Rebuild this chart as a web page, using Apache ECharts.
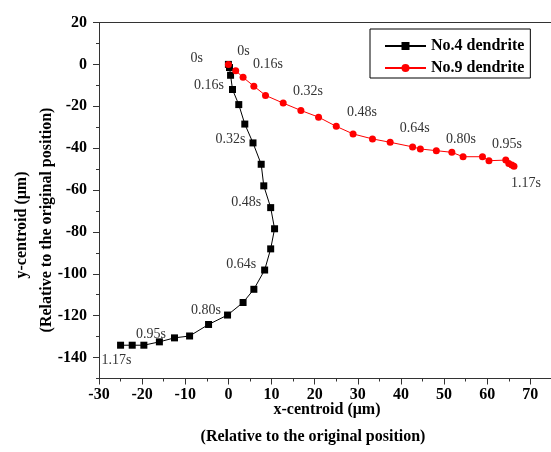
<!DOCTYPE html>
<html>
<head>
<meta charset="utf-8">
<title>Dendrite centroid trajectory</title>
<script src="https://cdn.jsdelivr.net/npm/echarts@6/dist/echarts.min.js"></script>
<style>
  html, body { margin: 0; padding: 0; background: #fff; }
  #chart { width: 551px; height: 452px; }
</style>
</head>
<body>
<div id="chart"></div>
<script>
// --- data ---
const seriesNames = ['No.4 dendrite', 'No.9 dendrite'];

// No.4 dendrite (black squares)
const no4X = [0, 0.25, 0.5, 0.95, 2.4, 3.8, 5.7, 7.6, 8.2, 9.8, 10.7, 9.8, 8.4, 5.9, 3.4, -0.2, -4.6, -9.0, -12.5, -16.0, -19.6, -22.3, -25.0];
const no4Y = [0, -1.5, -5.2, -12.0, -19.2, -28.5, -37.5, -47.7, -58.0, -68.4, -78.5, -88.1, -98.2, -107.4, -113.7, -119.7, -124.2, -129.7, -130.6, -132.5, -134.1, -134.1, -134.1];

// No.9 dendrite (red circles)
const no9X = [0, 1.7, 3.4, 5.9, 8.6, 12.7, 16.8, 20.9, 25.0, 28.9, 33.4, 37.5, 42.7, 44.5, 48.2, 51.8, 54.4, 58.9, 60.4, 64.3, 65.0, 65.7, 66.2];
const no9Y = [0, -3.0, -6.2, -10.4, -14.8, -18.5, -22.0, -25.2, -29.6, -33.2, -35.6, -37.2, -39.4, -40.4, -41.2, -42.0, -44.1, -44.1, -46.0, -45.7, -47.3, -48.1, -48.6];

// time labels: [point index, text]
const no4Times = [[0, '0s'], [3, '0.16s'], [6, '0.32s'], [9, '0.48s'], [12, '0.64s'], [15, '0.80s'], [18, '0.95s'], [22, '1.17s']];
const no9Times = [[0, '0s'], [3, '0.16s'], [6, '0.32s'], [9, '0.48s'], [12, '0.64s'], [15, '0.80s'], [18, '0.95s'], [22, '1.17s']];

const xTitle = 'x-centroid (\u03bcm)';
const yTitle = 'y-centroid (\u03bcm)';
const subTitle = '(Relative to the original position)';

// --- label placement (style only) ---
const no4LabelLayout = {
    0: ['left', [-17, -6]], 3: ['left', [0, -4]], 6: ['left', [1, -4]], 9: ['left', [-1, -5]],
    12: ['left', [0, -6]], 15: ['left', [2, -5]], 18: ['left', [0, -4]], 22: ['bottom', [-4, 0]]
};
const no9LabelLayout = {
    0: ['top', [15, 2]], 3: ['top', [14, -6]], 6: ['top', [7, -4]], 9: ['top', [9, -6]],
    12: ['top', [2, -3]], 15: ['top', [9, 2]], 18: ['top', [18, -1]], 22: ['bottom', [12, 2]]
};

const SERIF = "'Liberation Serif', 'Times New Roman', serif";

function buildData(xs, ys, times, layout) {
    const labels = {};
    times.forEach(([i, t]) => labels[i] = t);
    return xs.map((x, i) => {
        const item = { value: [x, ys[i]] };
        if (labels[i] !== undefined) {
            const [pos, off] = layout[i];
            item.label = {
                show: true,
                formatter: labels[i],
                position: pos,
                distance: 5,
                offset: off,
                fontFamily: SERIF,
                fontSize: 14,
                color: '#333'
            };
        }
        return item;
    });
}

const chart = echarts.init(document.getElementById('chart'), null, { renderer: 'canvas' });

const axisLineStyle = { color: '#333', width: 1 };

const option = {
    animation: false,
    backgroundColor: '#fff',
    // plot runs past the right edge of the picture, as in the cropped original
    grid: { left: 99, top: 22.5, width: 474.5, height: 356, outerBoundsMode: 'none' },
    legend: {
        data: seriesNames,
        orient: 'vertical',
        left: 370,
        top: 29,
        padding: [9, 6, 2, 14],
        itemWidth: 41,
        itemHeight: 10,
        itemGap: 6,
        borderColor: '#000',
        borderWidth: 1,
        textStyle: { fontFamily: SERIF, fontWeight: 'bold', fontSize: 16, color: '#000' }
    },
    xAxis: [{
        type: 'value',
        min: -30,
        max: 80,
        interval: 10,
        splitLine: { show: false },
        axisLine: { onZero: false, lineStyle: axisLineStyle },
        axisTick: { inside: false, length: 6, lineStyle: { color: '#333' } },
        minorTick: { show: true, splitNumber: 2, length: 3, lineStyle: { color: '#333' } },
        axisLabel: {
            margin: 8,
            fontFamily: SERIF, fontWeight: 'bold', fontSize: 16, color: '#000',
            formatter: v => (v >= 80 ? '' : String(v))
        }
    }, {
        type: 'value',
        position: 'top',
        min: -30,
        max: 80,
        interval: 10,
        splitLine: { show: false },
        axisLine: { onZero: false, lineStyle: axisLineStyle },
        axisTick: { show: false },
        axisLabel: { show: false }
    }],
    yAxis: [{
        type: 'value',
        min: -150,
        max: 20,
        interval: 10,
        splitLine: { show: false },
        axisLine: { show: true, onZero: false, lineStyle: axisLineStyle },
        axisTick: { length: 3, lineStyle: { color: '#333' } },
        axisLabel: {
            margin: 12,
            fontFamily: SERIF, fontWeight: 'bold', fontSize: 16, color: '#000',
            formatter: v => (v % 20 === 0 ? String(v) : '')
        }
    }, {
        type: 'value',
        position: 'left',
        min: -150,
        max: 20,
        interval: 10,
        splitLine: { show: false },
        axisLine: { show: false, onZero: false },
        axisTick: {
            length: 6,
            lineStyle: { color: '#333' },
            customValues: [-140, -120, -100, -80, -60, -40, -20, 0, 20]
        },
        axisLabel: { show: false }
    }],
    graphic: [
        { type: 'text', x: 327, y: 410, style: { text: xTitle, font: 'bold 16px ' + SERIF, fill: '#000', textAlign: 'center', textVerticalAlign: 'middle' } },
        { type: 'text', x: 313, y: 437, style: { text: subTitle, font: 'bold 16px ' + SERIF, fill: '#000', textAlign: 'center', textVerticalAlign: 'middle' } },
        { type: 'text', x: 22, y: 225, rotation: Math.PI / 2, style: { text: yTitle, font: 'bold 16px ' + SERIF, fill: '#000', textAlign: 'center', textVerticalAlign: 'middle' } },
        { type: 'text', x: 47, y: 220, rotation: Math.PI / 2, style: { text: subTitle, font: 'bold 16px ' + SERIF, fill: '#000', textAlign: 'center', textVerticalAlign: 'middle' } }
    ],
    series: [{
        name: seriesNames[0],
        type: 'line',
        symbol: 'rect',
        symbolSize: 7,
        lineStyle: { color: '#000', width: 1 },
        itemStyle: { color: '#000' },
        data: buildData(no4X, no4Y, no4Times, no4LabelLayout)
    }, {
        name: seriesNames[1],
        type: 'line',
        symbol: 'circle',
        symbolSize: 7,
        lineStyle: { color: '#ff0000', width: 1 },
        itemStyle: { color: '#ff0000' },
        data: buildData(no9X, no9Y, no9Times, no9LabelLayout)
    }]
};

chart.setOption(option);
</script>
</body>
</html>
